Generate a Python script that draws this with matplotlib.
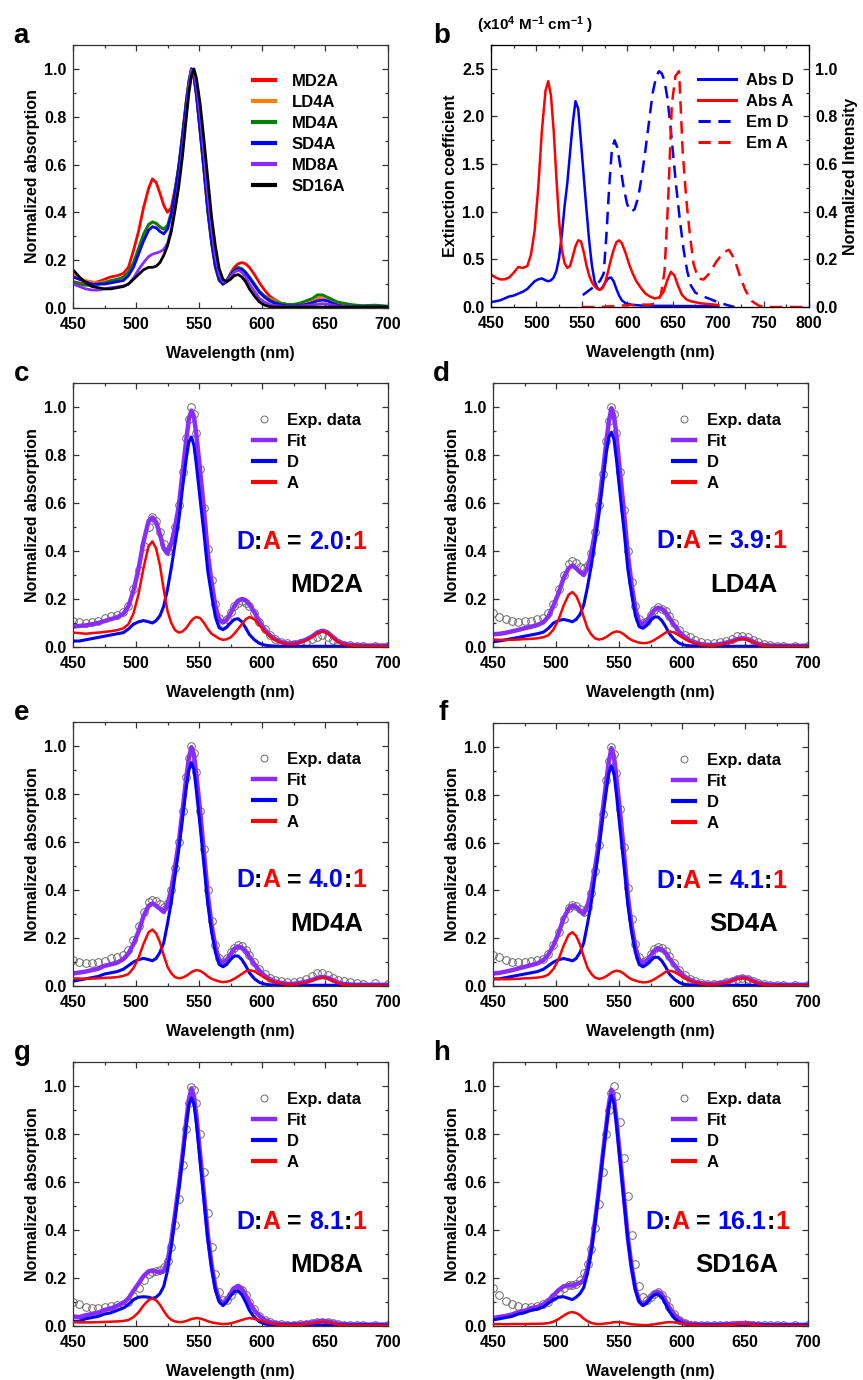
import matplotlib
matplotlib.use('Agg')
import matplotlib.pyplot as plt
from matplotlib.lines import Line2D
from matplotlib.ticker import MultipleLocator
from matplotlib.offsetbox import TextArea, DrawingArea, HPacker, AnchoredOffsetbox

plt.rcParams['font.family'] = ['Liberation Sans', 'DejaVu Sans']
plt.rcParams['font.weight'] = 'bold'
plt.rcParams['axes.labelweight'] = 'bold'
plt.rcParams['mathtext.fontset'] = 'custom'
plt.rcParams['mathtext.rm'] = 'Liberation Sans:bold'
plt.rcParams['mathtext.default'] = 'rm'

RED = '#ff0000'
BLUE = '#0000ff'
PURPLE = '#8b2cff'
ORANGE = '#ff8000'
GREEN = '#008000'
GRAY = '#6a6a6a'

# wavelength grid (nm) shared by the normalized spectra
wl = [450, 455, 460, 465, 470, 475, 480, 485, 490, 494,
      498, 502, 506, 510, 513, 516, 519, 522, 525, 528,
      531, 534, 537, 540, 542, 544, 546, 548, 551, 554,
      557, 560, 563, 566, 569, 572, 575, 578, 581, 584,
      587, 590, 594, 598, 602, 606, 610, 615, 620, 625,
      630, 635, 640, 644, 648, 652, 656, 660, 665, 670,
      675, 680, 690, 700]

# ---- MD2A ----
exp_md2a = [0.110, 0.105, 0.100, 0.105, 0.110, 0.120, 0.130, 0.135, 0.145, 0.170,
            0.240, 0.320, 0.420, 0.500, 0.540, 0.525, 0.480, 0.430, 0.400, 0.420,
            0.500, 0.590, 0.730, 0.870, 0.950, 1.000, 0.970, 0.890, 0.740, 0.580,
            0.410, 0.280, 0.180, 0.120, 0.100, 0.115, 0.145, 0.170, 0.185, 0.190,
            0.185, 0.170, 0.140, 0.105, 0.075, 0.050, 0.035, 0.020, 0.015, 0.012,
            0.015, 0.022, 0.032, 0.043, 0.048, 0.043, 0.030, 0.018, 0.010, 0.007,
            0.006, 0.005, 0.005, 0.004]
fit_md2a = [0.085, 0.088, 0.090, 0.095, 0.100, 0.108, 0.116, 0.124, 0.138, 0.170,
            0.235, 0.325, 0.440, 0.525, 0.540, 0.520, 0.470, 0.410, 0.390, 0.430,
            0.500, 0.590, 0.730, 0.870, 0.950, 0.985, 0.960, 0.880, 0.730, 0.570,
            0.390, 0.270, 0.170, 0.115, 0.102, 0.114, 0.140, 0.170, 0.193, 0.200,
            0.195, 0.177, 0.145, 0.105, 0.073, 0.050, 0.034, 0.021, 0.015, 0.015,
            0.021, 0.031, 0.045, 0.061, 0.068, 0.061, 0.043, 0.025, 0.013, 0.009,
            0.007, 0.006, 0.006, 0.006]
don_md2a = [0.025, 0.025, 0.030, 0.035, 0.040, 0.045, 0.050, 0.055, 0.060, 0.075,
            0.095, 0.105, 0.110, 0.105, 0.100, 0.110, 0.130, 0.170, 0.240, 0.330,
            0.430, 0.530, 0.665, 0.790, 0.855, 0.875, 0.840, 0.755, 0.610, 0.470,
            0.315, 0.215, 0.125, 0.080, 0.072, 0.082, 0.100, 0.115, 0.118, 0.105,
            0.080, 0.052, 0.030, 0.015, 0.008, 0.005, 0.004, 0.003, 0.003, 0.003,
            0.003, 0.003, 0.003, 0.003, 0.003, 0.003, 0.003, 0.003, 0.003, 0.003,
            0.003, 0.003, 0.003, 0.003]
acc_md2a = [0.060, 0.058, 0.055, 0.058, 0.060, 0.063, 0.066, 0.070, 0.078, 0.095,
            0.140, 0.220, 0.330, 0.420, 0.440, 0.410, 0.340, 0.240, 0.150, 0.100,
            0.070, 0.060, 0.065, 0.080, 0.095, 0.110, 0.120, 0.125, 0.120, 0.100,
            0.075, 0.055, 0.045, 0.035, 0.030, 0.032, 0.040, 0.055, 0.075, 0.095,
            0.115, 0.125, 0.115, 0.090, 0.065, 0.045, 0.030, 0.018, 0.012, 0.012,
            0.018, 0.028, 0.042, 0.058, 0.065, 0.058, 0.040, 0.022, 0.010, 0.006,
            0.004, 0.003, 0.003, 0.003]

# ---- LD4A ----
exp_ld4a = [0.140, 0.125, 0.115, 0.110, 0.105, 0.110, 0.110, 0.115, 0.120, 0.140,
            0.180, 0.240, 0.300, 0.345, 0.360, 0.350, 0.335, 0.330, 0.340, 0.390,
            0.480, 0.590, 0.720, 0.860, 0.940, 1.000, 0.970, 0.890, 0.730, 0.570,
            0.400, 0.270, 0.170, 0.115, 0.100, 0.110, 0.135, 0.155, 0.165, 0.160,
            0.150, 0.130, 0.100, 0.070, 0.050, 0.040, 0.030, 0.020, 0.015, 0.015,
            0.020, 0.025, 0.035, 0.045, 0.045, 0.040, 0.030, 0.020, 0.012, 0.008,
            0.006, 0.005, 0.005, 0.005]
fit_ld4a = [0.053, 0.055, 0.059, 0.065, 0.071, 0.078, 0.084, 0.091, 0.103, 0.127,
            0.173, 0.224, 0.287, 0.328, 0.340, 0.328, 0.312, 0.300, 0.328, 0.392,
            0.480, 0.590, 0.720, 0.860, 0.940, 0.995, 0.965, 0.880, 0.720, 0.560,
            0.390, 0.260, 0.160, 0.105, 0.094, 0.107, 0.131, 0.154, 0.164, 0.159,
            0.145, 0.120, 0.090, 0.062, 0.042, 0.028, 0.020, 0.012, 0.009, 0.009,
            0.012, 0.018, 0.025, 0.033, 0.037, 0.033, 0.024, 0.014, 0.008, 0.006,
            0.005, 0.005, 0.005, 0.005]
don_ld4a = [0.022, 0.025, 0.030, 0.035, 0.040, 0.045, 0.050, 0.055, 0.062, 0.078,
            0.100, 0.110, 0.115, 0.110, 0.105, 0.115, 0.135, 0.175, 0.250, 0.340,
            0.440, 0.550, 0.680, 0.810, 0.875, 0.895, 0.865, 0.780, 0.630, 0.485,
            0.325, 0.220, 0.130, 0.085, 0.078, 0.090, 0.110, 0.125, 0.125, 0.110,
            0.085, 0.055, 0.030, 0.015, 0.008, 0.005, 0.004, 0.003, 0.003, 0.003,
            0.003, 0.003, 0.003, 0.003, 0.003, 0.003, 0.003, 0.003, 0.003, 0.003,
            0.003, 0.003, 0.003, 0.003]
acc_ld4a = [0.031, 0.030, 0.029, 0.030, 0.031, 0.033, 0.034, 0.036, 0.041, 0.049,
            0.073, 0.114, 0.172, 0.218, 0.229, 0.213, 0.177, 0.125, 0.078, 0.052,
            0.036, 0.031, 0.034, 0.042, 0.049, 0.057, 0.062, 0.065, 0.062, 0.052,
            0.039, 0.029, 0.023, 0.018, 0.016, 0.017, 0.021, 0.029, 0.039, 0.049,
            0.060, 0.065, 0.060, 0.047, 0.034, 0.023, 0.016, 0.009, 0.006, 0.006,
            0.009, 0.015, 0.022, 0.030, 0.034, 0.030, 0.021, 0.011, 0.005, 0.003,
            0.002, 0.002, 0.002, 0.002]

# ---- MD4A ----
exp_md4a = [0.110, 0.100, 0.095, 0.095, 0.100, 0.105, 0.115, 0.120, 0.130, 0.150,
            0.190, 0.250, 0.310, 0.350, 0.360, 0.355, 0.340, 0.330, 0.345, 0.400,
            0.490, 0.600, 0.730, 0.870, 0.950, 1.000, 0.970, 0.890, 0.730, 0.570,
            0.400, 0.270, 0.170, 0.115, 0.100, 0.115, 0.140, 0.160, 0.170, 0.165,
            0.150, 0.130, 0.100, 0.070, 0.050, 0.035, 0.025, 0.020, 0.015, 0.015,
            0.020, 0.030, 0.040, 0.055, 0.055, 0.045, 0.035, 0.025, 0.020, 0.015,
            0.012, 0.010, 0.012, 0.008]
fit_md4a = [0.052, 0.056, 0.060, 0.066, 0.072, 0.084, 0.090, 0.097, 0.112, 0.135,
            0.175, 0.227, 0.291, 0.334, 0.344, 0.334, 0.322, 0.308, 0.340, 0.403,
            0.497, 0.602, 0.735, 0.873, 0.950, 0.995, 0.963, 0.876, 0.723, 0.553,
            0.380, 0.255, 0.164, 0.109, 0.096, 0.108, 0.132, 0.155, 0.165, 0.160,
            0.146, 0.121, 0.091, 0.063, 0.043, 0.029, 0.019, 0.013, 0.009, 0.009,
            0.013, 0.018, 0.026, 0.034, 0.038, 0.034, 0.025, 0.015, 0.008, 0.006,
            0.005, 0.005, 0.005, 0.005]
don_md4a = [0.020, 0.025, 0.030, 0.035, 0.040, 0.050, 0.055, 0.060, 0.070, 0.085,
            0.100, 0.110, 0.115, 0.110, 0.105, 0.115, 0.140, 0.180, 0.260, 0.350,
            0.460, 0.570, 0.700, 0.830, 0.900, 0.930, 0.900, 0.810, 0.660, 0.500,
            0.340, 0.225, 0.140, 0.090, 0.080, 0.090, 0.110, 0.125, 0.125, 0.110,
            0.085, 0.055, 0.030, 0.015, 0.008, 0.005, 0.003, 0.003, 0.003, 0.003,
            0.003, 0.003, 0.003, 0.003, 0.003, 0.003, 0.003, 0.003, 0.003, 0.003,
            0.003, 0.003, 0.003, 0.003]
acc_md4a = [0.032, 0.031, 0.030, 0.031, 0.032, 0.034, 0.035, 0.037, 0.042, 0.050,
            0.075, 0.117, 0.176, 0.224, 0.235, 0.219, 0.182, 0.128, 0.080, 0.053,
            0.037, 0.032, 0.035, 0.043, 0.050, 0.058, 0.063, 0.066, 0.063, 0.053,
            0.040, 0.030, 0.024, 0.019, 0.016, 0.018, 0.022, 0.030, 0.040, 0.050,
            0.061, 0.066, 0.061, 0.048, 0.035, 0.024, 0.016, 0.010, 0.006, 0.006,
            0.010, 0.015, 0.023, 0.031, 0.035, 0.031, 0.022, 0.012, 0.005, 0.003,
            0.002, 0.002, 0.002, 0.002]

# ---- SD4A ----
exp_sd4a = [0.130, 0.120, 0.110, 0.100, 0.100, 0.100, 0.105, 0.110, 0.115, 0.135,
            0.170, 0.225, 0.280, 0.325, 0.340, 0.335, 0.320, 0.310, 0.330, 0.390,
            0.480, 0.590, 0.720, 0.860, 0.940, 1.000, 0.970, 0.890, 0.740, 0.580,
            0.410, 0.280, 0.175, 0.120, 0.100, 0.110, 0.135, 0.155, 0.165, 0.160,
            0.145, 0.125, 0.095, 0.065, 0.045, 0.030, 0.020, 0.012, 0.008, 0.008,
            0.010, 0.015, 0.022, 0.030, 0.033, 0.030, 0.020, 0.012, 0.007, 0.005,
            0.004, 0.004, 0.004, 0.004]
fit_sd4a = [0.052, 0.055, 0.060, 0.066, 0.073, 0.080, 0.087, 0.094, 0.108, 0.132,
            0.170, 0.220, 0.282, 0.323, 0.337, 0.330, 0.315, 0.302, 0.336, 0.401,
            0.495, 0.600, 0.733, 0.861, 0.940, 0.995, 0.960, 0.870, 0.720, 0.555,
            0.378, 0.253, 0.163, 0.108, 0.095, 0.106, 0.125, 0.148, 0.158, 0.153,
            0.139, 0.114, 0.087, 0.060, 0.040, 0.027, 0.018, 0.012, 0.009, 0.009,
            0.012, 0.017, 0.024, 0.033, 0.036, 0.033, 0.023, 0.014, 0.008, 0.006,
            0.005, 0.005, 0.005, 0.005]
don_sd4a = [0.030, 0.030, 0.035, 0.040, 0.045, 0.050, 0.055, 0.060, 0.070, 0.085,
            0.100, 0.110, 0.115, 0.110, 0.105, 0.115, 0.140, 0.180, 0.260, 0.350,
            0.460, 0.570, 0.700, 0.820, 0.890, 0.920, 0.890, 0.800, 0.650, 0.500,
            0.340, 0.225, 0.140, 0.090, 0.080, 0.090, 0.105, 0.120, 0.120, 0.105,
            0.080, 0.050, 0.028, 0.014, 0.007, 0.004, 0.003, 0.003, 0.003, 0.003,
            0.003, 0.003, 0.003, 0.003, 0.003, 0.003, 0.003, 0.003, 0.003, 0.003,
            0.003, 0.003, 0.003, 0.003]
acc_sd4a = [0.030, 0.029, 0.028, 0.029, 0.030, 0.032, 0.033, 0.035, 0.039, 0.048,
            0.071, 0.111, 0.168, 0.214, 0.225, 0.209, 0.174, 0.122, 0.076, 0.051,
            0.035, 0.030, 0.033, 0.041, 0.048, 0.056, 0.061, 0.064, 0.061, 0.051,
            0.038, 0.028, 0.023, 0.018, 0.015, 0.016, 0.020, 0.028, 0.038, 0.048,
            0.059, 0.064, 0.059, 0.046, 0.033, 0.023, 0.015, 0.009, 0.006, 0.006,
            0.009, 0.014, 0.021, 0.030, 0.033, 0.030, 0.020, 0.011, 0.005, 0.003,
            0.002, 0.002, 0.002, 0.002]

# ---- MD8A ----
exp_md8a = [0.100, 0.090, 0.080, 0.075, 0.075, 0.080, 0.085, 0.088, 0.092, 0.100,
            0.125, 0.160, 0.190, 0.215, 0.225, 0.230, 0.235, 0.245, 0.270, 0.330,
            0.420, 0.530, 0.670, 0.820, 0.930, 0.995, 0.985, 0.930, 0.800, 0.640,
            0.470, 0.330, 0.215, 0.140, 0.110, 0.110, 0.130, 0.150, 0.158, 0.150,
            0.130, 0.100, 0.070, 0.040, 0.025, 0.015, 0.010, 0.008, 0.006, 0.006,
            0.008, 0.010, 0.013, 0.016, 0.018, 0.016, 0.012, 0.008, 0.006, 0.005,
            0.004, 0.004, 0.004, 0.004]
fit_md8a = [0.040, 0.037, 0.045, 0.050, 0.056, 0.067, 0.073, 0.084, 0.096, 0.115,
            0.147, 0.177, 0.208, 0.228, 0.230, 0.227, 0.224, 0.228, 0.270, 0.356,
            0.469, 0.586, 0.717, 0.861, 0.945, 0.990, 0.956, 0.873, 0.711, 0.546,
            0.380, 0.255, 0.162, 0.110, 0.093, 0.109, 0.136, 0.158, 0.167, 0.155,
            0.130, 0.098, 0.065, 0.042, 0.026, 0.017, 0.012, 0.009, 0.008, 0.008,
            0.009, 0.012, 0.015, 0.019, 0.021, 0.019, 0.015, 0.010, 0.007, 0.006,
            0.006, 0.006, 0.006, 0.006]
don_md8a = [0.020, 0.020, 0.030, 0.035, 0.040, 0.050, 0.055, 0.065, 0.075, 0.090,
            0.110, 0.120, 0.122, 0.120, 0.115, 0.120, 0.135, 0.165, 0.230, 0.330,
            0.450, 0.570, 0.700, 0.840, 0.920, 0.950, 0.925, 0.840, 0.680, 0.520,
            0.360, 0.240, 0.150, 0.100, 0.085, 0.100, 0.125, 0.143, 0.147, 0.130,
            0.100, 0.065, 0.035, 0.018, 0.009, 0.005, 0.004, 0.004, 0.004, 0.004,
            0.004, 0.004, 0.004, 0.004, 0.004, 0.004, 0.004, 0.004, 0.004, 0.004,
            0.004, 0.004, 0.004, 0.004]
acc_md8a = [0.016, 0.015, 0.015, 0.015, 0.016, 0.017, 0.018, 0.019, 0.021, 0.025,
            0.037, 0.057, 0.086, 0.108, 0.115, 0.107, 0.089, 0.063, 0.040, 0.026,
            0.019, 0.016, 0.017, 0.021, 0.025, 0.029, 0.031, 0.033, 0.031, 0.026,
            0.020, 0.015, 0.012, 0.010, 0.008, 0.009, 0.011, 0.015, 0.020, 0.025,
            0.030, 0.033, 0.030, 0.024, 0.017, 0.012, 0.008, 0.005, 0.004, 0.004,
            0.005, 0.008, 0.011, 0.015, 0.017, 0.015, 0.011, 0.006, 0.003, 0.002,
            0.002, 0.002, 0.002, 0.002]

# ---- SD16A ----
exp_sd16a = [0.160, 0.130, 0.105, 0.090, 0.085, 0.080, 0.080, 0.085, 0.090, 0.100,
             0.120, 0.140, 0.160, 0.170, 0.170, 0.175, 0.190, 0.220, 0.260, 0.320,
             0.410, 0.510, 0.640, 0.800, 0.900, 0.970, 1.000, 0.960, 0.850, 0.700,
             0.540, 0.380, 0.260, 0.165, 0.120, 0.110, 0.120, 0.135, 0.140, 0.130,
             0.110, 0.080, 0.050, 0.025, 0.012, 0.006, 0.004, 0.004, 0.004, 0.004,
             0.004, 0.004, 0.004, 0.004, 0.004, 0.004, 0.004, 0.004, 0.004, 0.004,
             0.004, 0.004, 0.004, 0.004]
fit_sd16a = [0.033, 0.038, 0.042, 0.048, 0.058, 0.063, 0.074, 0.079, 0.090, 0.107,
             0.128, 0.149, 0.165, 0.170, 0.168, 0.174, 0.180, 0.191, 0.240, 0.323,
             0.439, 0.568, 0.709, 0.841, 0.927, 0.985, 0.946, 0.856, 0.696, 0.533,
             0.370, 0.247, 0.156, 0.105, 0.089, 0.099, 0.120, 0.137, 0.143, 0.132,
             0.105, 0.076, 0.047, 0.028, 0.016, 0.011, 0.008, 0.006, 0.006, 0.006,
             0.006, 0.008, 0.009, 0.012, 0.012, 0.012, 0.009, 0.007, 0.005, 0.005,
             0.005, 0.005, 0.005, 0.005]
don_sd16a = [0.025, 0.030, 0.035, 0.040, 0.050, 0.055, 0.065, 0.070, 0.080, 0.095,
             0.110, 0.120, 0.122, 0.115, 0.110, 0.120, 0.135, 0.160, 0.220, 0.310,
             0.430, 0.560, 0.700, 0.830, 0.915, 0.960, 0.930, 0.840, 0.680, 0.520,
             0.360, 0.240, 0.150, 0.100, 0.085, 0.095, 0.115, 0.130, 0.133, 0.120,
             0.090, 0.060, 0.032, 0.016, 0.008, 0.005, 0.004, 0.004, 0.004, 0.004,
             0.004, 0.004, 0.004, 0.004, 0.004, 0.004, 0.004, 0.004, 0.004, 0.004,
             0.004, 0.004, 0.004, 0.004]
acc_sd16a = [0.008, 0.008, 0.007, 0.008, 0.008, 0.008, 0.009, 0.009, 0.010, 0.012,
             0.018, 0.029, 0.043, 0.055, 0.058, 0.054, 0.045, 0.031, 0.020, 0.013,
             0.009, 0.008, 0.009, 0.011, 0.012, 0.014, 0.016, 0.016, 0.016, 0.013,
             0.010, 0.007, 0.006, 0.005, 0.004, 0.004, 0.005, 0.007, 0.010, 0.012,
             0.015, 0.016, 0.015, 0.012, 0.008, 0.006, 0.004, 0.002, 0.002, 0.002,
             0.002, 0.004, 0.005, 0.008, 0.008, 0.008, 0.005, 0.003, 0.001, 0.001,
             0.001, 0.001, 0.001, 0.001]

# ---- reference spectra of the free donor / acceptor ----
wl_abs = [450, 455, 460, 465, 470, 475, 480, 485, 490, 494,
          498, 502, 506, 510, 513, 516, 519, 522, 525, 528,
          531, 534, 537, 540, 543, 546, 549, 552, 555, 558,
          561, 564, 567, 570, 573, 576, 579, 582, 585, 588,
          591, 594, 598, 602, 606, 610, 615, 620, 625, 630,
          635, 640, 644, 648, 652, 656, 660, 665, 670, 680,
          690, 700]
ext_d = [0.05, 0.06, 0.07, 0.09, 0.11, 0.12, 0.14, 0.16, 0.19, 0.23,
         0.27, 0.29, 0.30, 0.28, 0.27, 0.28, 0.31, 0.38, 0.52, 0.76,
         1.06, 1.30, 1.62, 1.93, 2.16, 2.08, 1.74, 1.38, 1.03, 0.70,
         0.44, 0.27, 0.20, 0.18, 0.21, 0.26, 0.30, 0.31, 0.27, 0.19,
         0.12, 0.07, 0.04, 0.03, 0.02, 0.02, 0.015, 0.015, 0.015, 0.012,
         0.012, 0.012, 0.012, 0.012, 0.01, 0.01, 0.01, 0.01, 0.01, 0.01,
         0.01, 0.008]
ext_a = [0.34, 0.31, 0.29, 0.29, 0.31, 0.36, 0.42, 0.41, 0.43, 0.55,
         0.80, 1.25, 1.85, 2.27, 2.37, 2.22, 1.85, 1.35, 0.90, 0.60,
         0.46, 0.41, 0.43, 0.53, 0.64, 0.70, 0.69, 0.58, 0.44, 0.33,
         0.26, 0.22, 0.19, 0.18, 0.20, 0.27, 0.38, 0.50, 0.60, 0.68,
         0.70, 0.67, 0.57, 0.45, 0.35, 0.27, 0.20, 0.14, 0.11, 0.09,
         0.10, 0.16, 0.28, 0.37, 0.33, 0.22, 0.13, 0.08, 0.06, 0.04,
         0.03, 0.02]
wl_emd = [551, 558, 565, 570, 574, 577, 580, 583, 586, 589,
          592, 596, 600, 604, 608, 612, 616, 620, 624, 628,
          632, 635, 638, 641, 644, 647, 650, 654, 658, 662,
          666, 670, 675, 680, 690, 700, 710, 718]
em_d = [0.05, 0.07, 0.09, 0.11, 0.14, 0.30, 0.50, 0.66, 0.70, 0.67,
        0.60, 0.50, 0.43, 0.40, 0.41, 0.46, 0.55, 0.66, 0.78, 0.90,
        0.97, 0.99, 0.98, 0.95, 0.88, 0.78, 0.66, 0.50, 0.36, 0.24,
        0.15, 0.09, 0.06, 0.05, 0.035, 0.02, 0.008, 0.0]
wl_ema = [550, 570, 590, 610, 625, 632, 637, 641, 645, 649,
          653, 657, 661, 665, 669, 673, 678, 684, 690, 698,
          706, 712, 718, 724, 730, 737, 745, 752, 760, 780,
          800]
em_a = [0.0, 0.0, 0.005, 0.01, 0.01, 0.015, 0.05, 0.15, 0.45, 0.85,
        0.97, 0.99, 0.65, 0.45, 0.30, 0.18, 0.12, 0.115, 0.14, 0.19,
        0.23, 0.24, 0.20, 0.13, 0.07, 0.025, 0.005, 0.0, 0.0, 0.0,
        0.0]

samples = ['MD2A', 'LD4A', 'MD4A', 'SD4A', 'MD8A', 'SD16A']
sample_colors = [RED, ORANGE, GREEN, BLUE, PURPLE, 'black']
ratios = ['2.0', '3.9', '4.0', '4.1', '8.1', '16.1']

W, H = 863, 1380
LEG = dict(loc='upper left', frameon=False, fontsize=12, labelspacing=0.36,
           borderpad=0, borderaxespad=0)


def rect(l, t, r, b):
    return [l / W, 1 - b / H, (r - l) / W, (b - t) / H]


def style(ax, xmax=700, right=True):
    ax.set_xlim(450, xmax)
    ax.xaxis.set_major_locator(MultipleLocator(50))
    ax.xaxis.set_minor_locator(MultipleLocator(25))
    ax.tick_params(which='both', direction='in', top=True, right=right,
                   labelsize=11.5, width=0.9, color='#333333')
    ax.tick_params(axis='x', pad=6.5)
    ax.tick_params(axis='y', pad=4.5)
    ax.tick_params(which='major', length=4.5)
    ax.tick_params(which='minor', length=2.5)
    for s in ax.spines.values():
        s.set_linewidth(0.9)
        s.set_color('#333333')
    ax.set_xlabel('Wavelength (nm)', fontsize=11.5, labelpad=10)


def norm_axis(ax):
    ax.set_ylim(0, 1.1)
    ax.yaxis.set_major_locator(MultipleLocator(0.2))
    ax.yaxis.set_minor_locator(MultipleLocator(0.1))
    ax.set_ylabel('Normalized absorption', fontsize=11.5, labelpad=3)


def ratio_label(ax, ratio, cx, cy):
    parts = [('D', BLUE), (':', 'black'), ('A', RED), (None, None), ('=', 'black'),
             (None, None), (ratio, BLUE), (':', 'black'), ('1', RED)]
    kids = []
    for s, c in parts:
        if s is None:
            kids.append(DrawingArea(5, 1))
        else:
            kids.append(TextArea(s, textprops=dict(color=c, fontsize=18, fontweight='bold')))
    pack = HPacker(children=kids, align='baseline', pad=0, sep=0)
    box = AnchoredOffsetbox(loc='center', child=pack, pad=0, borderpad=0, frameon=False,
                            bbox_to_anchor=(cx, cy), bbox_transform=ax.transAxes)
    ax.add_artist(box)


fig = plt.figure(figsize=(8.63, 13.8), dpi=100)

# (a) all normalized spectra
ax = fig.add_axes(rect(73, 45, 388, 308))
exps = [exp_md2a, exp_ld4a, exp_md4a, exp_sd4a, exp_md8a, exp_sd16a]
for name, col, y in zip(samples, sample_colors, exps):
    ax.plot(wl, y, color=col, lw=2.0)
style(ax)
norm_axis(ax)
ax.legend([Line2D([], [], color=c, lw=3.0) for c in sample_colors], samples,
          bbox_to_anchor=(0.57, 0.89), handlelength=1.35, handletextpad=1.0, **LEG)

# (b) extinction + emission of the reference dyes
axb = fig.add_axes(rect(491, 45, 809, 307))
axb2 = axb.twinx()
axb.plot(wl_abs, ext_d, color=BLUE, lw=1.8)
axb.plot(wl_abs, ext_a, color=RED, lw=1.8)
axb2.plot(wl_emd, em_d, color=BLUE, lw=1.8, ls=(0, (5, 3)))
axb2.plot(wl_ema, em_a, color=RED, lw=1.8, ls=(0, (5, 3)))
style(axb, xmax=800, right=False)
axb.set_ylim(0, 2.75)
axb.yaxis.set_major_locator(MultipleLocator(0.5))
axb.yaxis.set_minor_locator(MultipleLocator(0.25))
axb.set_ylabel('Extinction coefficient', fontsize=11.5, labelpad=3)
axb2.set_ylim(0, 1.1)
axb2.yaxis.set_major_locator(MultipleLocator(0.2))
axb2.yaxis.set_minor_locator(MultipleLocator(0.1))
axb2.tick_params(which='both', direction='in', labelsize=11.5, width=0.9, color='#333333', pad=4.5)
axb2.tick_params(which='major', length=4.5)
axb2.tick_params(which='minor', length=2.5)
axb2.set_ylabel('Normalized Intensity', fontsize=11.5, labelpad=4)
b_handles = [Line2D([], [], color=BLUE, lw=2.2), Line2D([], [], color=RED, lw=2.2),
             Line2D([], [], color=BLUE, lw=2.2, ls=(0, (4, 2.5))),
             Line2D([], [], color=RED, lw=2.2, ls=(0, (4, 2.5)))]
axb2.legend(b_handles, ['Abs D', 'Abs A', 'Em D', 'Em A'], bbox_to_anchor=(0.65, 0.892),
            handlelength=2.3, handletextpad=0.6, **LEG)
fig.text(477 / W, 1 - 30 / H, r'(x10$^{4}$ M$^{-1}$ cm$^{-1}$ )', fontsize=11, fontweight='bold')

# (c)-(h) component fits
fits = [fit_md2a, fit_ld4a, fit_md4a, fit_sd4a, fit_md8a, fit_sd16a]
dons = [don_md2a, don_ld4a, don_md4a, don_sd4a, don_md8a, don_sd16a]
accs = [acc_md2a, acc_ld4a, acc_md4a, acc_sd4a, acc_md8a, acc_sd16a]
boxes = [(73, 383, 388, 647), (493, 383, 808, 647),
         (73, 722, 388, 986), (493, 723, 808, 986),
         (73, 1062, 388, 1326), (493, 1062, 808, 1326)]
ratio_pos = [(0.724, 0.398), (0.725, 0.40), (0.724, 0.40), (0.725, 0.40), (0.724, 0.394), (0.711, 0.394)]
name_pos = [(0.805, 0.235), (0.795, 0.235), (0.806, 0.235), (0.797, 0.235), (0.806, 0.23), (0.774, 0.23)]

for i in range(6):
    ax = fig.add_axes(rect(*boxes[i]))
    ax.plot(wl, exps[i], ls='none', marker='o', ms=5.5, mfc='none', mec=GRAY, mew=0.7, zorder=1)
    ax.plot(wl, fits[i], color=PURPLE, lw=3.2, zorder=2)
    ax.plot(wl, dons[i], color=BLUE, lw=2.2, zorder=3)
    ax.plot(wl, accs[i], color=RED, lw=1.8, zorder=4)
    style(ax)
    norm_axis(ax)
    handles = [Line2D([], [], ls='none', marker='o', ms=5, mfc='none', mec=GRAY, mew=0.7),
               Line2D([], [], color=PURPLE, lw=3.2),
               Line2D([], [], color=BLUE, lw=3.0),
               Line2D([], [], color=RED, lw=3.0)]
    ax.legend(handles, ['Exp. data', 'Fit', 'D', 'A'], bbox_to_anchor=(0.57, 0.886),
              handlelength=1.35, handletextpad=0.7, **LEG)
    ratio_label(ax, ratios[i], *ratio_pos[i])
    ax.text(name_pos[i][0], name_pos[i][1], samples[i], transform=ax.transAxes,
            ha='center', va='center', fontsize=18.5, fontweight='bold')

# panel letters
letters = [('a', 13, 43), ('b', 433, 43), ('c', 14, 381), ('d', 433, 381),
           ('e', 14, 720), ('f', 438, 720), ('g', 14, 1060), ('h', 433, 1060)]
for s, x, y in letters:
    fig.text(x / W, 1 - y / H, s, fontsize=20, fontweight='bold', va='baseline')

fig.savefig('out.png', dpi=100)
